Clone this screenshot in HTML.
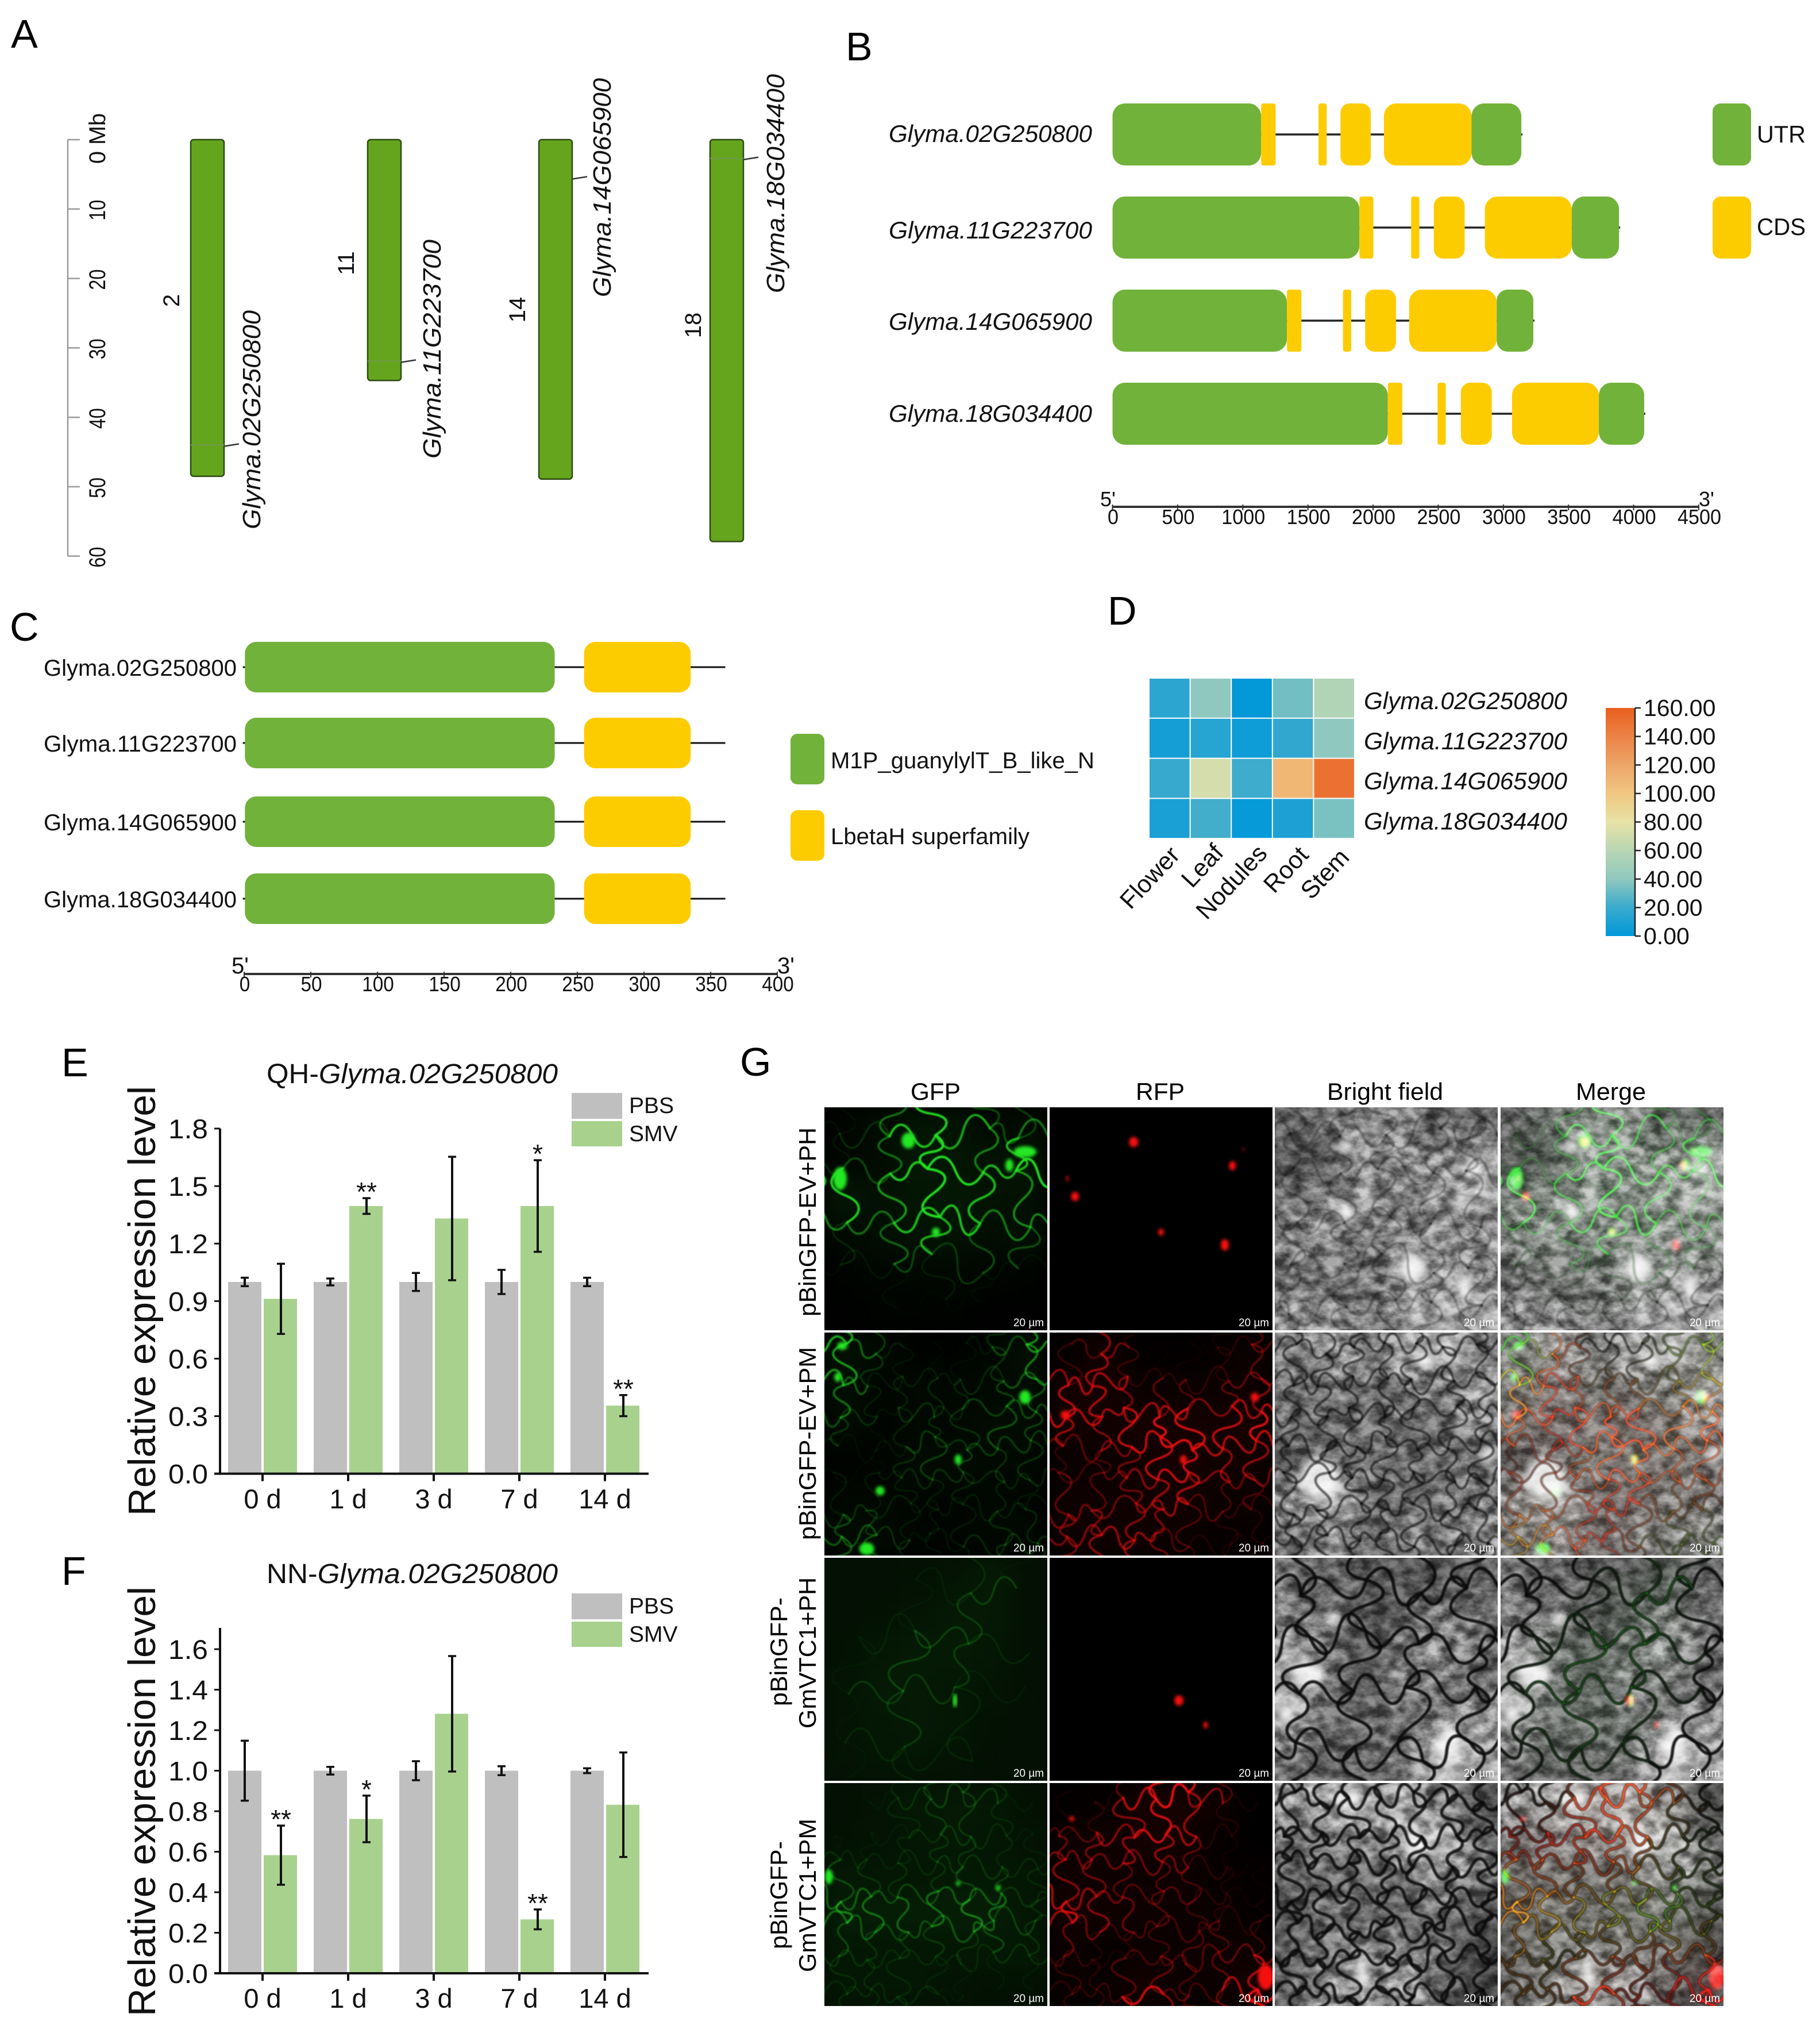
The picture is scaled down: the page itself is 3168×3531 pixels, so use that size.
<!DOCTYPE html>
<html lang="en">
<head>
<meta charset="utf-8">
<title>Glyma.02G250800 multi-panel figure</title>
<style>
html,body{margin:0;padding:0;background:#fff;}
svg{display:block;font-family:"Liberation Sans",sans-serif;}
</style>
</head>
<body>
<svg id="figure" width="3168" height="3531" viewBox="0 0 3168 3531">
<defs>
<clipPath id="panelClip"><rect x="0" y="0" width="388" height="388"/></clipPath>
<filter id="b1" x="-5%" y="-5%" width="110%" height="110%" color-interpolation-filters="sRGB"><feGaussianBlur stdDeviation="1"/></filter>
<filter id="b3" x="-5%" y="-5%" width="110%" height="110%" color-interpolation-filters="sRGB"><feGaussianBlur stdDeviation="3"/></filter>
<filter id="b7" x="-20%" y="-20%" width="140%" height="140%" color-interpolation-filters="sRGB"><feGaussianBlur stdDeviation="7"/></filter>
<filter id="b22" x="-10%" y="-10%" width="120%" height="120%" color-interpolation-filters="sRGB"><feGaussianBlur stdDeviation="22"/></filter>
<filter id="tex" x="0" y="0" width="1" height="1" color-interpolation-filters="sRGB">
<feTurbulence type="fractalNoise" baseFrequency=".035 .05" numOctaves="4" seed="7"/>
<feColorMatrix type="matrix" values="2.2 0 0 0 -.6  2.2 0 0 0 -.6  2.2 0 0 0 -.6  0 0 0 0 1"/>
</filter>
<linearGradient id="colorbarGradient" x1="0" y1="1" x2="0" y2="0"></linearGradient>
</defs>
<rect x="0" y="0" width="3168" height="3531" fill="#fff"/>

<g font-size="70">
<text x="19" y="83">A</text>
<text x="1472" y="105">B</text>
<text x="17" y="1115">C</text>
<text x="1928" y="1087">D</text>
<text x="107" y="1873">E</text>
<text x="107" y="2758">F</text>
<text x="1288" y="1872">G</text>
</g>

<g id="panelA"></g>
<g id="panelB"></g>
<g id="panelC"></g>
<g id="panelD"></g>
<g id="panelE"></g>
<g id="panelF"></g>
<g id="panelG"></g>

<g font-size="42">
<text x="1585" y="1914" textLength="87" lengthAdjust="spacingAndGlyphs">GFP</text>
<text x="1977" y="1914" textLength="85" lengthAdjust="spacingAndGlyphs">RFP</text>
<text x="2310" y="1914" textLength="202" lengthAdjust="spacingAndGlyphs">Bright field</text>
<text x="2743" y="1914" textLength="122" lengthAdjust="spacingAndGlyphs">Merge</text>
</g>
<g font-size="42">
<text transform="translate(1420 2291) rotate(-90)" textLength="329" lengthAdjust="spacingAndGlyphs">pBinGFP-EV+PH</text>
<text transform="translate(1420 2680) rotate(-90)" textLength="336" lengthAdjust="spacingAndGlyphs">pBinGFP-EV+PM</text>
<text transform="translate(1370 2969) rotate(-90)" textLength="189" lengthAdjust="spacingAndGlyphs">pBinGFP-</text>
<text transform="translate(1420 3008) rotate(-90)" textLength="263" lengthAdjust="spacingAndGlyphs">GmVTC1+PH</text>
<text transform="translate(1370 3392) rotate(-90)" textLength="188" lengthAdjust="spacingAndGlyphs">pBinGFP-</text>
<text transform="translate(1420 3432) rotate(-90)" textLength="267" lengthAdjust="spacingAndGlyphs">GmVTC1+PM</text>
</g>
</svg>

<script>
/* ---------- Panel A data ---------- */
const chrNames = ['2', '11', '14', '18'];
const chrLengthsMb = [48.5, 34.7, 48.9, 57.9];
const chrGenes = ['Glyma.02G250800', 'Glyma.11G223700', 'Glyma.14G065900', 'Glyma.18G034400'];
const chrGenePosMb = [44.0, 31.9, 5.5, 2.7];
const mbTicks = [0, 10, 20, 30, 40, 50, 60];

/* ---------- Panel B data ---------- */
const geneNames = ['Glyma.02G250800', 'Glyma.11G223700', 'Glyma.14G065900', 'Glyma.18G034400'];
const gene02Parts = [['UTR',0,1141],['CDS',1141,1252],['CDS',1581,1644],['CDS',1750,1982],['CDS',2083,2756],['UTR',2756,3138]];
const gene11Parts = [['UTR',0,1895],['CDS',1895,2002],['CDS',2292,2355],['CDS',2466,2703],['CDS',2858,3525],['UTR',3525,3888]];
const gene14Parts = [['UTR',0,1339],['CDS',1339,1450],['CDS',1769,1832],['CDS',1939,2176],['CDS',2277,2949],['UTR',2949,3230]];
const gene18Parts = [['UTR',0,2113],['CDS',2113,2224],['CDS',2495,2558],['CDS',2674,2911],['CDS',3066,3733],['UTR',3733,4081]];
const bpTicks = [0, 500, 1000, 1500, 2000, 2500, 3000, 3500, 4000, 4500];

/* ---------- Panel C data ---------- */
const domainM1P = [1, 233];
const domainLbeta = [255, 335];
const proteinLength = 361;
const aaTicks = [0, 50, 100, 150, 200, 250, 300, 350, 400];

/* ---------- Panel D data ---------- */
const tissues = ['Flower', 'Leaf', 'Nodules', 'Root', 'Stem'];
const heat02 = [15, 40, 1, 33, 57];
const heat11 = [7, 13, 5, 17, 40];
const heat14 = [19, 72, 21, 110, 150];
const heat18 = [9, 22, 2, 10, 35];
const heatTicks = [0, 20, 40, 60, 80, 100, 120, 140, 160];

/* ---------- Panels E and F data ---------- */
const timeLabels = ['0 d', '1 d', '3 d', '7 d', '14 d'];
const ePbs = [1, 1, 1, 1, 1];
const ePbsErr = [0.022, 0.018, 0.047, 0.063, 0.022];
const eSmv = [0.912, 1.396, 1.331, 1.396, 0.355];
const eSmvErr = [0.183, 0.041, 0.322, 0.239, 0.055];
const eStars = ['', '**', '', '*', '**'];
const eTicks = ['0.0', '0.3', '0.6', '0.9', '1.2', '1.5', '1.8'];
const fPbs = [1, 1, 1, 1, 1];
const fPbsErr = [0.148, 0.019, 0.047, 0.022, 0.012];
const fSmv = [0.583, 0.762, 1.281, 0.266, 0.832];
const fSmvErr = [0.146, 0.115, 0.285, 0.049, 0.258];
const fStars = ['**', '*', '', '**', ''];
const fTicks = ['0.0', '0.2', '0.4', '0.6', '0.8', '1.0', '1.2', '1.4', '1.6'];

/* ---------- helpers ---------- */
const svgRoot = document.getElementById('figure');
const NS = svgRoot.namespaceURI;
const GREEN = '#71b23a', YELLOW = '#fdcc00';

function el(tag, parent, attrs) {
  const e = document.createElementNS(NS, tag);
  for (const k in attrs) e.setAttribute(k, attrs[k]);
  parent.appendChild(e);
  return e;
}
function txt(parent, str, x, y, size, o) {
  o = o || {};
  const e = el('text', parent, {'font-size': size, fill: o.fill || '#000', 'text-anchor': o.anchor || 'start'});
  if (o.rot !== undefined) {
    e.setAttribute('transform', 'translate(' + x + ' ' + y + ') rotate(' + o.rot + ')');
  } else {
    e.setAttribute('x', x);
    e.setAttribute('y', y);
  }
  if (o.italic) e.setAttribute('font-style', 'italic');
  if (o.bold) e.setAttribute('font-weight', 'bold');
  if (o.len) {
    e.setAttribute('textLength', o.len);
    e.setAttribute('lengthAdjust', 'spacingAndGlyphs');
  }
  e.textContent = str;
  return e;
}
function line(parent, x1, y1, x2, y2, stroke, w) {
  return el('line', parent, {x1: x1, y1: y1, x2: x2, y2: y2, stroke: stroke, 'stroke-width': w});
}

/* ---------- Panel A ---------- */
(function () {
  const g = document.getElementById('panelA');
  const yMb = v => 243 + v * 12.08;
  const chrLeft = [332, 640, 938, 1236];
  const nameX = [298, 602, 900, 1206];
  const nameOff = [280, 215, 296, 323];
  const geneBase = [453, 767, 1063, 1365];
  const geneStart = [921, 798, 517, 510];
  const markInside = [true, true, false, true];
  const axis = line(g, 118, yMb(0), 118, yMb(60), '#9a9a9a', 2.5);
  
  
  mbTicks.forEach(function (t) {
    const tick = line(g, 118, yMb(t), 139, yMb(t), '#9a9a9a', 2.5);
    
    
    const lab = txt(g, t === 0 ? '0 Mb' : String(t), 183, yMb(t) + (t === 0 ? -2 : 2), 40,
      {rot: -90, anchor: 'middle', len: t === 0 ? 88 : 36, fill: '#111'});
    
    
  });
  chrNames.forEach(function (name, i) {
    const x = chrLeft[i];
    const bar = el('rect', g, {x: x, y: yMb(0), width: 58, height: yMb(chrLengthsMb[i]) - yMb(0), rx: 5,
      fill: '#65a51d', stroke: '#2d4a14', 'stroke-width': 2.5});
    
    
    const yGene = yMb(chrGenePosMb[i]);
    if (markInside[i]) {
      const mark = line(g, x, yGene, x + 58, yGene, '#6f9a4c', 2);
      
      
    }
    const lead = line(g, x + 59, yGene + 2, x + 84, yGene - 2, '#333', 2.5);
    
    
    const chrLab = txt(g, name, nameX[i] + 14, yMb(0) + nameOff[i], 40, {rot: -90, anchor: 'middle', fill: '#111'});
    
    
    const geneLab = txt(g, chrGenes[i], geneBase[i], geneStart[i], 44, {rot: -90, italic: true, len: 381, fill: '#111'});
    
    
  });
})();

/* ---------- Panel B ---------- */
(function () {
  const g = document.getElementById('panelB');
  const xBp = v => 1936.5 + v * (1020.5 / 4500);
  const rowCenter = [234, 396, 558, 720];
  const labelBase = [247, 415, 574, 734];
  const allParts = [gene02Parts, gene11Parts, gene14Parts, gene18Parts];
  geneNames.forEach(function (name, r) {
    const parts = allParts[r];
    const cy = rowCenter[r];
    const label = txt(g, name, 1547, labelBase[r], 42, {italic: true, len: 354, fill: '#111'});
    
    
    const intron = line(g, xBp(0), cy, xBp(parts[parts.length - 1][2]) + 2, cy, '#222', 3.5);
    
    
    parts.forEach(function (p) {
      const w = xBp(p[2]) - xBp(p[1]);
      const part = el('rect', g, {x: xBp(p[1]), y: cy - 54, width: w, height: 108,
        rx: w < 40 ? 4 : Math.min(22, w * 0.3), fill: p[0] === 'UTR' ? GREEN : YELLOW});
      
      
    });
  });
  const utrBox = el('rect', g, {x: 2981, y: 180, width: 67, height: 108, rx: 14, fill: GREEN});
  
  
  const cdsBox = el('rect', g, {x: 2981, y: 342, width: 67, height: 108, rx: 14, fill: YELLOW});
  
  
  const utrLab = txt(g, 'UTR', 3058, 248, 42, {len: 85, fill: '#111'});
  
  
  const cdsLab = txt(g, 'CDS', 3058, 409, 42, {len: 85, fill: '#111'});
  
  
  const axis = line(g, xBp(0), 882, xBp(4500), 882, '#333', 4);
  
  
  bpTicks.forEach(function (t) {
    const tick = line(g, xBp(t), 878, xBp(t), 888, '#333', 2);
    
    
    const s = String(t);
    const lab = txt(g, s, xBp(t) + 1, 912, 36, {anchor: 'middle', len: s.length * 19, fill: '#111'});
    
    
  });
  const five = txt(g, "5'", 1915, 881, 36, {fill: '#111'});
  
  
  const three = txt(g, "3'", 2957, 881, 36, {fill: '#111'});
  
  
})();

/* ---------- Panel C ---------- */
(function () {
  const g = document.getElementById('panelC');
  const xAa = v => 425 + v * 2.32;
  const rowCenter = [1161, 1293, 1430, 1564];
  geneNames.forEach(function (name, r) {
    const cy = rowCenter[r];
    const label = txt(g, name, 76, cy + 15, 40, {len: 336, fill: '#111'});
    
    
    const backbone = line(g, xAa(-1), cy, xAa(proteinLength), cy, '#111', 3);
    
    
    const d1 = el('rect', g, {x: xAa(domainM1P[0]) - 1, y: cy - 44, width: xAa(domainM1P[1]) - xAa(domainM1P[0]) + 1, height: 88, rx: 20, fill: GREEN});
    
    
    const d2 = el('rect', g, {x: xAa(domainLbeta[0]), y: cy - 44, width: xAa(domainLbeta[1]) - xAa(domainLbeta[0]), height: 88, rx: 20, fill: YELLOW});
    
    
  });
  const box1 = el('rect', g, {x: 1376, y: 1277, width: 59, height: 88, rx: 12, fill: GREEN});
  
  
  const box2 = el('rect', g, {x: 1376, y: 1410, width: 59, height: 88, rx: 12, fill: YELLOW});
  
  
  const lab1 = txt(g, 'M1P_guanylylT_B_like_N', 1446, 1337, 40, {len: 459, fill: '#111'});
  
  
  const lab2 = txt(g, 'LbetaH superfamily', 1446, 1469, 40, {len: 346, fill: '#111'});
  
  
  const axis = line(g, xAa(0), 1695, xAa(400), 1695, '#333', 4);
  
  
  aaTicks.forEach(function (t) {
    const tick = line(g, xAa(t), 1691, xAa(t), 1701, '#333', 2);
    
    
    const s = String(t);
    const lab = txt(g, s, xAa(t) + 1, 1725, 36, {anchor: 'middle', len: s.length * 18.5, fill: '#111'});
    
    
  });
  const five = txt(g, "5'", 403, 1694, 40, {fill: '#111'});
  
  
  const three = txt(g, "3'", 1353, 1694, 40, {fill: '#111'});
  
  
})();

/* ---------- Panel D ---------- */
const heatStops = [[0,[0,152,218]],[20,[58,170,205]],[40,[143,200,190]],[60,[184,214,180]],[80,[232,226,166]],[100,[240,198,128]],[120,[237,165,104]],[140,[236,130,70]],[160,[232,95,30]]];
function heatColor(v) {
  for (let i = 1; i < heatStops.length; i++) {
    if (v <= heatStops[i][0]) {
      const a = heatStops[i - 1], b = heatStops[i];
      const t = (v - a[0]) / (b[0] - a[0]);
      return 'rgb(' + [0, 1, 2].map(c => Math.round(a[1][c] + t * (b[1][c] - a[1][c]))).join(',') + ')';
    }
  }
  return 'rgb(232,95,30)';
}
(function () {
  const g = document.getElementById('panelD');
  const rows = [heat02, heat11, heat14, heat18];
  const xCell = i => 2000 + i * 71.6;
  const yCell = r => 1180 + r * 69.8;
  const labelEnds = [[2056, 1490], [2132, 1486], [2208, 1487], [2280, 1490], [2351, 1494]];
  rows.forEach(function (vals, r) {
    vals.forEach(function (v, c) {
      const cell = el('rect', g, {x: xCell(c) + 1, y: yCell(r) + 1, width: 69.6, height: 67.8, fill: heatColor(v)});
      
      
    });
    const lab = txt(g, geneNames[r], 2374, yCell(r) + 54, 42, {italic: true, len: 354, fill: '#111'});
    
    
  });
  tissues.forEach(function (t, i) {
    const lab = txt(g, t, labelEnds[i][0], labelEnds[i][1], 43, {rot: -47, anchor: 'end', fill: '#111'});
    
    
  });
  const grad = document.getElementById('colorbarGradient');
  heatStops.forEach(function (s) {
    el('stop', grad, {offset: s[0] / 160, 'stop-color': heatColor(s[0])});
  });
  const yHeat = v => 1629 - v * (397 / 160);
  const bar = el('rect', g, {x: 2795, y: yHeat(160), width: 51, height: 397, fill: 'url(#colorbarGradient)'});
  
  
  const axis = line(g, 2846, yHeat(160), 2846, yHeat(0), '#222', 2.5);
  
  
  heatTicks.forEach(function (t) {
    const tick = line(g, 2846, yHeat(t), 2856, yHeat(t), '#222', 2.5);
    
    
    const lab = txt(g, t.toFixed(2), 2861, yHeat(t) + 14, 41, {fill: '#111'});
    
    
  });
})();

/* ---------- Panels E, F ---------- */
function drawBars(g, c) {
  const yVal = v => c.y0 - v * c.unit;
  const xBand = i => 457 + i * 149;
  timeLabels.forEach(function (lab, i) {
    const cx = xBand(i);
    const pbs = el('rect', g, {x: cx - 60, y: yVal(c.pbs[i]), width: 58, height: yVal(0) - yVal(c.pbs[i]), fill: '#bfbfbf'});
    
    
    const smv = el('rect', g, {x: cx + 2, y: yVal(c.smv[i]), width: 58, height: yVal(0) - yVal(c.smv[i]), fill: '#a9d18e'});
    
    
    [[cx - 31, c.pbs[i], c.pbsErr[i]], [cx + 32, c.smv[i], c.smvErr[i]]].forEach(function (e) {
      const stem = line(g, e[0], yVal(e[1] + e[2]), e[0], yVal(e[1] - e[2]), '#111', 4);
      
      
      const capTop = line(g, e[0] - 7, yVal(e[1] + e[2]), e[0] + 7, yVal(e[1] + e[2]), '#111', 3.5);
      
      
      const capLow = line(g, e[0] - 7, yVal(e[1] - e[2]), e[0] + 7, yVal(e[1] - e[2]), '#111', 3.5);
      
      
    });
    if (c.stars[i]) {
      const star = txt(g, c.stars[i], cx + 32, yVal(c.smv[i] + c.smvErr[i]) + 5, 46, {anchor: 'middle', fill: '#111'});
      
      
    }
    const tick = line(g, cx, yVal(0), cx, yVal(0) + 13, '#111', 4);
    
    
    const xl = txt(g, lab, cx, c.xLabelY, 47, {anchor: 'middle', fill: '#111'});
    
    
  });
  const yAxis = line(g, 383, yVal(c.max), 383, yVal(0) + 2, '#111', 4);
  
  
  const xAxis = line(g, 373, yVal(0), 1129, yVal(0), '#111', 4);
  
  
  c.ticks.forEach(function (t) {
    const v = parseFloat(t);
    const tick = line(g, 373, yVal(v), 383, yVal(v), '#111', 3);
    
    
    const yl = txt(g, t, 362, yVal(v) + 17, 47, {anchor: 'end', len: 69, fill: '#111'});
    
    
  });
  const yTitle = txt(g, 'Relative expression level', 270, c.yTitleStart, 67, {rot: -90, len: 748, fill: '#111'});
  
  
  const title = el('text', g, {x: 464, y: c.titleY, 'font-size': 48, fill: '#111', textLength: 507, lengthAdjust: 'spacingAndGlyphs'});
  
  
  const t1 = el('tspan', title, {});
  t1.textContent = c.prefix;
  const t2 = el('tspan', title, {'font-style': 'italic'});
  t2.textContent = 'Glyma.02G250800';
  const lg1 = el('rect', g, {x: 995, y: c.legendY, width: 88, height: 45, fill: '#bfbfbf'});
  
  
  const lg2 = el('rect', g, {x: 995, y: c.legendY + 49, width: 88, height: 44, fill: '#a9d18e'});
  
  
  const lb1 = txt(g, 'PBS', 1095, c.legendY + 35, 39, {fill: '#111'});
  
  
  const lb2 = txt(g, 'SMV', 1095, c.legendY + 84, 39, {fill: '#111'});
  
  
}
drawBars(document.getElementById('panelE'), {y0: 2564.6, unit: 600.6 / 1.8, max: 1.8, pbs: ePbs, pbsErr: ePbsErr, smv: eSmv, smvErr: eSmvErr,
  stars: eStars, ticks: eTicks, xLabelY: 2625, yTitleStart: 2638, titleY: 1885, prefix: 'QH-', legendY: 1902});
drawBars(document.getElementById('panelF'), {y0: 3434, unit: 352.5, max: 1.705, pbs: fPbs, pbsErr: fPbsErr, smv: fSmv, smvErr: fSmvErr,
  stars: fStars, ticks: fTicks, xLabelY: 3494, yTitleStart: 3509, titleY: 2755, prefix: 'NN-', legendY: 2773});

/* ---------- Panel G: micrograph impressions ---------- */
const gfpGlow = [
  [[.2,.5,.9,.9,.4,.5],[.3,.5,1,.9,.8,1],[1,.7,.9,1,.8,.7],[.4,.6,.8,.8,.6,.7],[.1,.2,.3,.3,.2,.1],[.05,.1,.1,.1,.05,.05]],
  [[1,.5,.1,.1,.4,.9],[.9,.3,.5,.4,.5,.7],[.6,.2,.5,.4,.7,.6],[.1,.2,.6,.6,.5,.5],[.4,.4,.3,.3,.4,.3],[.7,.6,.3,.3,.5,.5]],
  [[.05,.05,.1,.3,.7,.05],[.05,.1,.3,.6,.6,.05],[.1,.5,.7,.7,.5,.05],[.2,.6,.6,.5,.3,.05],[.2,.5,.6,.5,.1,.05],[.2,.4,.4,.2,.05,.05]],
  [[.05,.2,.5,.6,.5,.1],[.1,.2,.4,.5,.4,.2],[.6,.4,.4,.5,.5,.4],[.9,.8,.8,.9,.9,.4],[.5,.4,.4,.4,.5,.5],[.4,.4,.4,.2,.1,.1]]
];
const rfpGlow = [
  [[0,0,0,0,0,0],[0,0,0,0,0,0],[0,0,0,0,0,0],[0,0,0,0,0,0],[0,0,0,0,0,0],[0,0,0,0,0,0]],
  [[.2,.9,.1,.1,.2,.6],[.9,.9,.5,.5,.5,.7],[.9,.8,1,1,.9,1],[.4,.5,.8,1,.8,.8],[.7,.6,.7,.9,.5,.5],[.7,.8,.8,.5,.3,.3]],
  [[0,0,0,0,0,0],[0,0,0,0,0,0],[0,0,0,0,0,0],[0,0,0,0,0,0],[0,0,0,0,0,0],[0,0,0,0,0,0]],
  [[.1,.2,.9,1,.6,.05],[.6,.7,.9,.8,.3,.05],[.7,.6,.5,.6,.3,.2],[.9,.7,.6,.5,.4,.2],[.5,.2,.4,.5,.6,.6],[.4,.4,.9,.5,.5,1]]
];
const brightGrey = [
  [[.35,.4,.55,.45,.35,.4],[.3,.35,.55,.5,.5,.6],[.4,.5,.5,.45,.55,.6],[.5,.5,.45,.5,.5,.5],[.4,.4,.4,.6,.55,.5],[.5,.5,.45,.5,.65,.6]],
  [[.45,.55,.5,.55,.7,.45],[.4,.45,.4,.45,.4,.6],[.4,.4,.4,.4,.4,.5],[.35,.4,.45,.4,.4,.4],[.55,.7,.4,.4,.45,.45],[.4,.5,.4,.45,.45,.5]],
  [[.4,.35,.35,.3,.3,.4],[.45,.45,.3,.35,.45,.4],[.6,.45,.3,.45,.55,.4],[.7,.4,.35,.5,.4,.4],[.6,.35,.4,.4,.5,.6],[.4,.35,.4,.4,.8,.6]],
  [[.5,.6,.6,.55,.45,.3],[.4,.5,.45,.6,.7,.35],[.35,.4,.35,.4,.5,.4],[.3,.4,.35,.35,.4,.3],[.35,.4,.45,.45,.4,.25],[.35,.5,.5,.55,.35,.25]]
];
const gfpSpots = [
  [[.377,.149,12,14],[.07,.32,12,20],[.9,.2,20,10],[.83,.26,7,11],[.5,.56,7,8]],
  [[.06,.2,6,8],[.9,.29,10,12],[.6,.57,6,9],[.25,.71,8,8],[.19,.97,13,11],[.08,.06,9,7]],
  [[.586,.64,4,12]],
  [[.02,.42,7,13],[.6,.45,4,4],[.78,.47,4,5]]
];
const rfpSpots = [
  [[.377,.156,8,9],[.82,.262,6,8],[.114,.40,7,8],[.5,.56,5,6],[.786,.617,7,10],[.08,.32,2,5],[.87,.19,2,2]],
  [[.07,.37,8,8],[.6,.57,6,8],[.92,.29,7,8]],
  [[.58,.64,8,9],[.7,.75,4,6]],
  [[.97,.87,14,22],[.1,.16,5,4]]
];
const brightSpots = [
  [[.32,.18,12,10],[.32,.47,16,14],[.9,.27,12,12],[.62,.72,22,24],[.85,.8,12,24]],
  [[.2,.65,34,34],[.67,.12,18,12],[.96,.55,12,14]],
  [[.78,.83,24,26],[.15,.52,26,22],[.26,.27,10,12],[.05,.7,12,20]],
  [[.33,.07,22,14],[.63,.27,20,22],[.39,.85,12,26],[.03,.7,5,6]]
];
const netCells = [5, 7, 4, 7];
const rowGainGreen = [1, .8, .7, .75];
const rowGainRed = [1, .9, 1, .95];
const darkLine = [.28, .6, .92, .88];
const whiteLine = [.4, .25, .28, .55];
const PSIZE = 388;

function bilinear(m, u, v) {
  const n = m.length;
  const fx = Math.min(n - 1.001, Math.max(0, u * n - .5));
  const fy = Math.min(n - 1.001, Math.max(0, v * n - .5));
  const ix = Math.floor(fx), iy = Math.floor(fy);
  const tx = fx - ix, ty = fy - iy;
  return (m[iy][ix] * (1 - tx) + m[iy][ix + 1] * tx) * (1 - ty) + (m[iy + 1][ix] * (1 - tx) + m[iy + 1][ix + 1] * tx) * ty;
}
function textureRand(seed) {
  let s = seed;
  return function () { s = (s * 16807) % 2147483647; return s / 2147483647; };
}
function cellNet(seed, n) {
  const r = textureRand(seed);
  const c = PSIZE / n;
  const verts = [];
  for (let j = 0; j <= n + 1; j++) {
    verts[j] = [];
    for (let i = 0; i <= n + 1; i++) {
      verts[j][i] = [(i - .5) * c + (r() - .5) * c * .45, (j - .5) * c + (r() - .5) * c * .45];
    }
  }
  const edges = [];
  function edge(a, b) {
    const vx = b[0] - a[0], vy = b[1] - a[1];
    const s = r() < .5 ? -1 : 1;
    const amp = (.26 + .2 * r()) * s;
    const nx = -vy * amp, ny = vx * amp;
    const p = (t, k) => (a[0] + vx * t + nx * k).toFixed(1) + ' ' + (a[1] + vy * t + ny * k).toFixed(1);
    edges.push({d: 'M' + p(0, 0) + 'C' + p(.15, 1) + ',' + p(.35, 1) + ',' + p(.5, 0) + 'C' + p(.65, -1) + ',' + p(.85, -1) + ',' + p(1, 0),
      u: (a[0] + b[0]) / 2 / PSIZE, v: (a[1] + b[1]) / 2 / PSIZE});
  }
  for (let j = 0; j <= n + 1; j++) {
    for (let i = 0; i <= n + 1; i++) {
      if (i <= n) edge(verts[j][i], verts[j][i + 1]);
      if (j <= n) edge(verts[j][i], verts[j + 1][i]);
    }
  }
  return edges;
}
function drawFluor(parent, row, color, glow, spots, gain) {
  const haze = el('g', parent, {filter: 'url(#b22)'});
  const n = 6, c = PSIZE / n;
  glow.forEach(function (rowVals, j) {
    rowVals.forEach(function (v, i) {
      if (v > .01) el('rect', haze, {x: i * c, y: j * c, width: c, height: c, fill: color, opacity: (v * gain * .1).toFixed(3)});
    });
  });
  const net = el('g', parent, {filter: 'url(#b1)', fill: 'none', 'stroke-linecap': 'round'});
  cellNet(1000 + row * 37, netCells[row]).forEach(function (e) {
    const v = bilinear(glow, e.u, e.v) * gain;
    if (v > .04) el('path', net, {d: e.d, stroke: color, 'stroke-width': (1.4 + v * 2.8).toFixed(1), opacity: Math.min(1, Math.pow(v, 1.7) * 1.15).toFixed(2)});
  });
  const dots = el('g', parent, {filter: 'url(#b3)'});
  spots.forEach(function (s) {
    el('ellipse', dots, {cx: s[0] * PSIZE, cy: s[1] * PSIZE, rx: s[2], ry: s[3], fill: color});
  });
}
function drawBright(parent, row) {
  const m = brightGrey[row];
  el('rect', parent, {x: 0, y: 0, width: PSIZE, height: PSIZE, fill: 'rgb(105,105,105)'});
  const mosaic = el('g', parent, {filter: 'url(#b22)'});
  const n = 6, c = PSIZE / n;
  m.forEach(function (rowVals, j) {
    rowVals.forEach(function (v, i) {
      const k = Math.round(v * 255);
      el('rect', mosaic, {x: i * c - (i === 0 ? 40 : 0), y: j * c - (j === 0 ? 40 : 0),
        width: c + (i === 0 || i === n - 1 ? 40 : 0), height: c + (j === 0 || j === n - 1 ? 40 : 0), fill: 'rgb(' + k + ',' + k + ',' + k + ')'});
    });
  });
  const tex = el('rect', parent, {x: 0, y: 0, width: PSIZE, height: PSIZE, filter: 'url(#tex)', opacity: .5});
  tex.style.mixBlendMode = 'overlay';
  const whites = el('g', parent, {filter: 'url(#b3)', fill: 'none', stroke: '#fff', 'stroke-linecap': 'round'});
  cellNet(2000 + row * 41, netCells[row] + 1).forEach(function (e) {
    const v = bilinear(m, e.u, e.v);
    el('path', whites, {d: e.d, 'stroke-width': 7, opacity: (whiteLine[row] * Math.max(0, v - .25) * 1.8).toFixed(2)});
  });
  const spotsG = el('g', parent, {filter: 'url(#b7)'});
  brightSpots[row].forEach(function (s) {
    el('ellipse', spotsG, {cx: s[0] * PSIZE, cy: s[1] * PSIZE, rx: s[2], ry: s[3], fill: '#fff', opacity: .85});
  });
  const darks = el('g', parent, {filter: 'url(#b1)', fill: 'none', stroke: '#0b0b0b', 'stroke-linecap': 'round'});
  cellNet(1000 + row * 37, netCells[row]).forEach(function (e) {
    el('path', darks, {d: e.d, 'stroke-width': row >= 2 ? 5.5 : 4.5, opacity: darkLine[row]});
  });
}
(function () {
  const g = document.getElementById('panelG');
  const colX = [1435, 1827, 2219, 2612];
  const rowY = [1927, 2319, 2711, 3103];
  const GREENF = '#24e824', REDF = '#f5100f';
  for (let r = 0; r < 4; r++) {
    const rowName = 'row-' + (r + 1);
    /* GFP */
    const gfp = el('g', g, {transform: 'translate(' + colX[0] + ' ' + rowY[r] + ')', 'clip-path': 'url(#panelClip)'});
    
    
    el('rect', gfp, {x: 0, y: 0, width: PSIZE, height: PSIZE, fill: r >= 2 ? '#041004' : '#000'});
    drawFluor(gfp, r, GREENF, gfpGlow[r], gfpSpots[r], rowGainGreen[r]);
    /* RFP */
    const rfp = el('g', g, {transform: 'translate(' + colX[1] + ' ' + rowY[r] + ')', 'clip-path': 'url(#panelClip)'});
    
    
    el('rect', rfp, {x: 0, y: 0, width: PSIZE, height: PSIZE, fill: '#000'});
    drawFluor(rfp, r, REDF, rfpGlow[r], rfpSpots[r], rowGainRed[r]);
    /* Bright field */
    const bf = el('g', g, {transform: 'translate(' + colX[2] + ' ' + rowY[r] + ')', 'clip-path': 'url(#panelClip)'});
    
    
    bf.style.isolation = 'isolate';
    drawBright(bf, r);
    /* Merge */
    const mg = el('g', g, {transform: 'translate(' + colX[3] + ' ' + rowY[r] + ')', 'clip-path': 'url(#panelClip)'});
    
    
    mg.style.isolation = 'isolate';
    drawBright(mg, r);
    const mgG = el('g', mg, {});
    mgG.style.mixBlendMode = 'screen';
    drawFluor(mgG, r, GREENF, gfpGlow[r], gfpSpots[r], rowGainGreen[r]);
    const mgR = el('g', mg, {});
    mgR.style.mixBlendMode = 'screen';
    drawFluor(mgR, r, REDF, rfpGlow[r], rfpSpots[r], rowGainRed[r]);
    /* scale labels */
    colX.forEach(function (x) {
      const sc = txt(g, '20 µm', x + 382, rowY[r] + 381, 19, {anchor: 'end', fill: '#fff', len: 53});
      
      
    });
  }
})();
</script>
</body>
</html>
